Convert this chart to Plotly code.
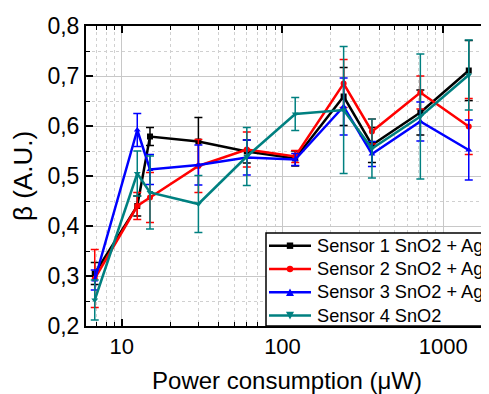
import plotly.graph_objects as go
import math

power_uw = [6.8, 12.5, 15, 30, 60, 120, 240, 360, 720, 1440]

s1 = [0.305, 0.44, 0.579, 0.569, 0.549, 0.535, 0.659, 0.562, 0.627, 0.711]
s1_err = [0.022, 0.02, 0.018, 0.048, 0.023, 0.015, 0.058, 0.035, 0.045, 0.06]
s2 = [0.295, 0.44, 0.457, 0.52, 0.553, 0.539, 0.685, 0.589, 0.667, 0.599]
s2_err = [0.058, 0.027, 0.05, 0.053, 0.035, 0.012, 0.048, 0.025, 0.033, 0.056]
s3 = [0.292, 0.592, 0.513, 0.522, 0.537, 0.533, 0.639, 0.544, 0.609, 0.552]
s3_err = [0.02, 0.033, 0.03, 0.04, 0.035, 0.012, 0.057, 0.025, 0.039, 0.06]
s4 = [0.252, 0.505, 0.467, 0.444, 0.539, 0.624, 0.632, 0.555, 0.619, 0.702]
s4_err = [0.04, 0.045, 0.073, 0.057, 0.058, 0.033, 0.127, 0.059, 0.125, 0.07]

names = ["Sensor 1 SnO2 + Ag", "Sensor 2 SnO2 + Ag", "Sensor 3 SnO2 + Ag", "Sensor 4 SnO2"]
colors = ["#000000", "#FF0000", "#0000FF", "#008080"]
symbols = ["square", "circle", "triangle-up", "triangle-down"]

x_ticks = [10, 100, 1000]
x_ticktext = ["10", "100", "1000"]
x_minor = [6, 7, 8, 9, 20, 30, 40, 50, 60, 70, 80, 90, 200, 300, 400, 500, 600, 700, 800, 900]
y_ticks = [0.2, 0.3, 0.4, 0.5, 0.6, 0.7, 0.8]
y_ticktext = ["0,2", "0,3", "0,4", "0,5", "0,6", "0,7", "0,8"]

fig = go.Figure()
for ys, es, nm, c, sym in zip([s1, s2, s3, s4], [s1_err, s2_err, s3_err, s4_err], names, colors, symbols):
    fig.add_trace(go.Scatter(
        x=power_uw, y=ys, name=nm, mode="lines+markers",
        line=dict(color=c, width=2.5),
        marker=dict(symbol=sym, size=6, color=c),
        error_y=dict(type="data", array=es, visible=True, color=c, thickness=1.5, width=4),
    ))

font_family = "Liberation Sans, Arial, sans-serif"
# the page body has an 8px margin, so the figure is 8px smaller and margins shifted
W, H = 481, 386
ML, MR, MT, MB = 78, 1, 18, 68
PW, PH = W - ML - MR, H - MT - MB
fig.update_layout(
    width=W, height=H,
    margin=dict(l=ML, r=MR, t=MT, b=MB),
    paper_bgcolor="white", plot_bgcolor="white",
    font=dict(family=font_family, color="black"),
    showlegend=False,
)

# ---- legend box drawn by hand (to match the tight row spacing of the original) ----
lx0, lx1 = 180 / PW, 1.03
ly1 = 93 / PH
fig.add_shape(type="rect", xref="paper", yref="paper", x0=lx0, x1=lx1, y0=0, y1=ly1,
              line=dict(color="black", width=1.5), fillcolor="white", layer="above")
line_x0, line_x1 = 183 / PW, 225 / PW
mx = (line_x0 + line_x1) / 2
text_x = 229 / PW
for i, (nm, c, sym) in enumerate(zip(names, colors, symbols)):
    ry = (80.3 - 23.3 * i) / PH
    fig.add_shape(type="line", xref="paper", yref="paper", x0=line_x0, x1=line_x1, y0=ry, y1=ry,
                  line=dict(color=c, width=2.5), layer="above")
    dx, dy = 3.2 / PW, 3.2 / PH
    if sym == "square":
        fig.add_shape(type="rect", xref="paper", yref="paper", x0=mx - dx, x1=mx + dx, y0=ry - dy, y1=ry + dy,
                      line=dict(color=c, width=0), fillcolor=c, layer="above")
    elif sym == "circle":
        fig.add_shape(type="circle", xref="paper", yref="paper", x0=mx - dx, x1=mx + dx, y0=ry - dy, y1=ry + dy,
                      line=dict(color=c, width=0), fillcolor=c, layer="above")
    else:
        tx, ty = 4 / PW, 3.8 / PH
        s = 1 if sym == "triangle-up" else -1
        path = (f"M {mx - tx} {ry - s * ty} L {mx + tx} {ry - s * ty} L {mx} {ry + s * ty} Z")
        fig.add_shape(type="path", xref="paper", yref="paper", path=path,
                      line=dict(color=c, width=0), fillcolor=c, layer="above")
    fig.add_annotation(x=text_x, y=ry, xref="paper", yref="paper", text=nm, showarrow=False,
                       xanchor="left", yanchor="middle", font=dict(size=18.2, family=font_family, color="black"))

fig.update_xaxes(
    type="log", range=[math.log10(6.0), 3.278], automargin=False,
    tickmode="array", tickvals=x_ticks, ticktext=x_ticktext,
    tickfont=dict(size=22), ticks="inside", ticklen=7, tickwidth=1.5, tickcolor="black",
    showline=True, linecolor="black", linewidth=2, mirror="ticks",
    showgrid=True, gridcolor="#C8C8C8", gridwidth=1,
    minor=dict(tickmode="array", tickvals=x_minor, ticks="inside", ticklen=4, tickwidth=1.2,
               tickcolor="black", showgrid=True, gridcolor="#D0D0D0", griddash="dot", gridwidth=1),
    title=dict(text="Power consumption (\u03bcW)", font=dict(size=24)),
    zeroline=False,
)
fig.update_yaxes(
    range=[0.2, 0.8], automargin=False,
    tickmode="array", tickvals=y_ticks, ticktext=y_ticktext,
    tickfont=dict(size=23), ticks="inside", ticklen=7, tickwidth=1.5, tickcolor="black",
    showline=True, linecolor="black", linewidth=2, mirror="ticks",
    showgrid=True, gridcolor="#C8C8C8", gridwidth=1,
    minor=dict(dtick=0.05, tick0=0.2, ticks="inside", ticklen=4, tickwidth=1.2,
               tickcolor="black", showgrid=True, gridcolor="#D0D0D0", griddash="dot", gridwidth=1),
    title=dict(text="\u03b2 (A.U.)", font=dict(size=26)),
    zeroline=False,
)

fig.write_html("out.html")
